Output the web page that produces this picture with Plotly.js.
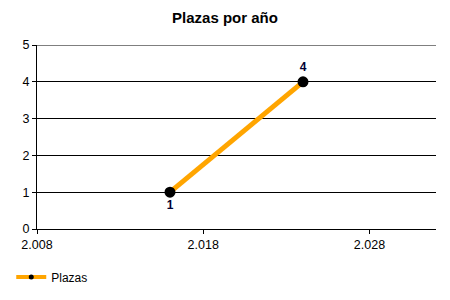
<!DOCTYPE html>
<html><head><meta charset="utf-8">
<script src="https://cdn.plot.ly/plotly-3.0.1.min.js"></script>
<style>html,body{margin:0;padding:0;background:#fff}</style>
</head><body>
<div id="chart" style="width:450px;height:300px"></div>
<script>
const years = [2016, 2024];
const plazas = [1, 4];
const labels = ['1', '4'];
const labelPos = ['bottom center', 'top center'];
const xTicks = [2008, 2018, 2028];
const yTicks = [0, 1, 2, 3, 4, 5];

const trace = {
  x: years, y: plazas, type: 'scatter', mode: 'lines+markers+text',
  name: 'Plazas', showlegend: false,
  line: {color: '#FFA500', width: 5},
  marker: {color: '#000', size: 11},
  text: labels, textposition: labelPos,
  textfont: {family: 'Liberation Sans, Arial', size: 12, color: '#000033', weight: 'bold'},
  cliponaxis: false
};
const legendTrace = {
  x: [null], y: [null], type: 'scatter', mode: 'lines+markers', name: 'Plazas',
  line: {color: '#FFA500', width: 4}, marker: {color: '#000', size: 5}
};
const layout = {
  width: 450, height: 300,
  margin: {l: 37, r: 14, t: 45, b: 71},
  paper_bgcolor: '#fff', plot_bgcolor: '#fff',
  separators: ',.',
  font: {family: 'Liberation Sans, Arial', size: 12, color: '#000'},
  title: {text: '<b>Plazas por año</b>', x: 0.5, xanchor: 'center', y: 0.94, yanchor: 'middle',
          font: {family: 'Liberation Sans, Arial', size: 15, color: '#000'}},
  xaxis: {range: [2008, 2032], tickvals: xTicks, separatethousands: true, tickformat: ',d',
          showgrid: false, zeroline: false, showline: true, linecolor: '#000', linewidth: 1,
          ticks: 'outside', ticklen: 4, tickcolor: '#000', fixedrange: true,
          tickfont: {size: 12.5, color: '#000'}},
  yaxis: {range: [0, 5], tickvals: yTicks, showgrid: true, gridcolor: '#000', gridwidth: 1,
          zeroline: false, showline: true, linecolor: '#000', linewidth: 1,
          ticks: 'outside', ticklen: 4, tickcolor: '#000', fixedrange: true,
          tickfont: {size: 12.5, color: '#000'}},
  shapes: [{type: 'line', xref: 'paper', yref: 'y', x0: 0, x1: 1, y0: 5, y1: 5,
            line: {color: '#000', width: 1}}],
  showlegend: true,
  legend: {orientation: 'h', xref: 'container', yref: 'container', x: 0.025, y: 0.077,
           xanchor: 'left', yanchor: 'middle', font: {size: 12, color: '#000'},
           bgcolor: 'rgba(0,0,0,0)', itemwidth: 30}
};
Plotly.newPlot('chart', [trace, legendTrace], layout, {staticPlot: true, displayModeBar: false});
</script>
</body></html>
